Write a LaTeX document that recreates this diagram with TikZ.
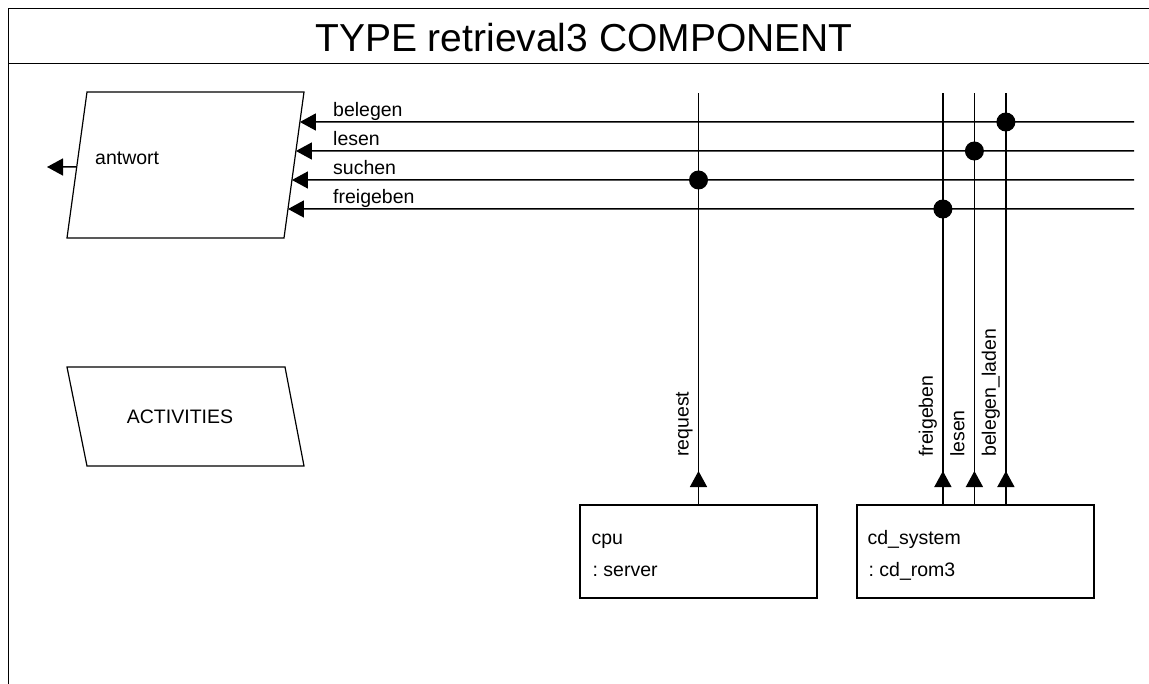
\documentclass[tikz,border=0pt]{standalone}
\usepackage{fontspec}
\setmainfont{Liberation Sans}
\frenchspacing
\usetikzlibrary{arrows.meta, calc}
\tikzset{
  frame line/.style={line width=1pt},
  plain line/.style={line width=1.5pt},
  wire/.style={line width=1.5pt, -{Triangle[length=16pt, width=17pt]}},
  port dot/.style={fill=black},
  lbl/.style={font=\fontsize{19.5}{23}\selectfont, inner sep=0pt},
  compbox/.style={draw, line width=1.2pt, minimum width=237pt, minimum height=93pt, inner sep=0pt}
}

\begin{document}
\begin{tikzpicture}[x=1pt, y=-1pt]
    \useasboundingbox (0,0) rectangle (1149,684);

    % outer frame and title bar
    \draw[frame line] (1149,9) -- (8,9) -- (8,684);
    \draw[frame line] (8,64) -- (1149,64);
    \node[font=\fontsize{39}{45}\selectfont, inner sep=0pt, anchor=base] (title) at (584,51.5) {TYPE retrieval3 COMPONENT};

    % antwort shape (slanted to the right)
    \coordinate (aw-nw) at (87,92);
    \coordinate (aw-ne) at (304,92);
    \coordinate (aw-se) at (284,238);
    \coordinate (aw-sw) at (67,238);
    \draw[line width=1.2pt] (aw-nw) -- (aw-ne) -- (aw-se) -- (aw-sw) -- cycle;
    \node[lbl, anchor=base west] (antwort) at (95,165) {antwort};

    % result leaving antwort
    \coordinate (aw-out) at ($(aw-nw)!{75/146}!(aw-sw)$);
    \coordinate (res) at (47,167);
    \draw[wire] (aw-out) -- (res);

    % ACTIVITIES shape (slanted to the left)
    \coordinate (ac-nw) at (67,367);
    \coordinate (ac-ne) at (285,367);
    \coordinate (ac-se) at (304,466);
    \coordinate (ac-sw) at (87,466);
    \draw[line width=1.2pt] (ac-nw) -- (ac-ne) -- (ac-se) -- (ac-sw) -- cycle;
    \node[lbl, anchor=base] (activities) at (180,424) {ACTIVITIES};

    % incoming signals into antwort
    \foreach \name/\y/\lab in {belegen/122/belegen, lesen/151/lesen, suchen/180/suchen, frei/209/freigeben}{
      \coordinate (in-\name) at ($(aw-ne)!{(\y-92)/146}!(aw-se)$);
      \coordinate (out-\name) at (1134,\y);
      \draw[wire] (out-\name) -- (in-\name);
      \node[lbl, anchor=base west] (lb-\name) at (333,\y-5.5) {\lab};
    }

    % subcomponents
    \node[compbox] (cpu) at (698.5,551.5) {};
    \node[lbl, anchor=base west] (cpu-name) at ($(cpu.north west)+(12,40.5)$) {cpu};
    \node[lbl, anchor=base west] (cpu-type) at ($(cpu.north west)+(13,72)$) {: server};

    \node[compbox] (cd) at (975.5,551.5) {};
    \node[lbl, anchor=base west] (cd-name) at ($(cd.north west)+(11,40.5)$) {cd\_system};
    \node[lbl, anchor=base west] (cd-type) at ($(cd.north west)+(12,72)$) {: cd\_rom3};

    % ports going up from the boxes
    \coordinate (p-req) at (cpu.north);
    \coordinate (p-frei) at ($(cd.north west)+(86.5,0)$);
    \coordinate (p-lesen) at ($(cd.north west)+(118,0)$);
    \coordinate (p-belegen) at ($(cd.north west)+(149.5,0)$);

    \foreach \p/\lab in {req/request, frei/freigeben, lesen/lesen, belegen/belegen\_laden}{
      \draw[plain line] (p-\p) -- (p-\p |- 0,93);
      \draw[wire] (p-\p) -- (p-\p |- 0,471);
      \node[lbl, rotate=90, anchor=base west] (v-\p) at ($(p-\p |- 0,457)+(-10,0)$) {\lab};
    }

    % connection dots
    \fill[port dot] (p-req |- out-suchen) circle[radius=9.5];
    \fill[port dot] (p-frei |- out-frei) circle[radius=9.5];
    \fill[port dot] (p-lesen |- out-lesen) circle[radius=9.5];
    \fill[port dot] (p-belegen |- out-belegen) circle[radius=9.5];
\end{tikzpicture}
\end{document}
